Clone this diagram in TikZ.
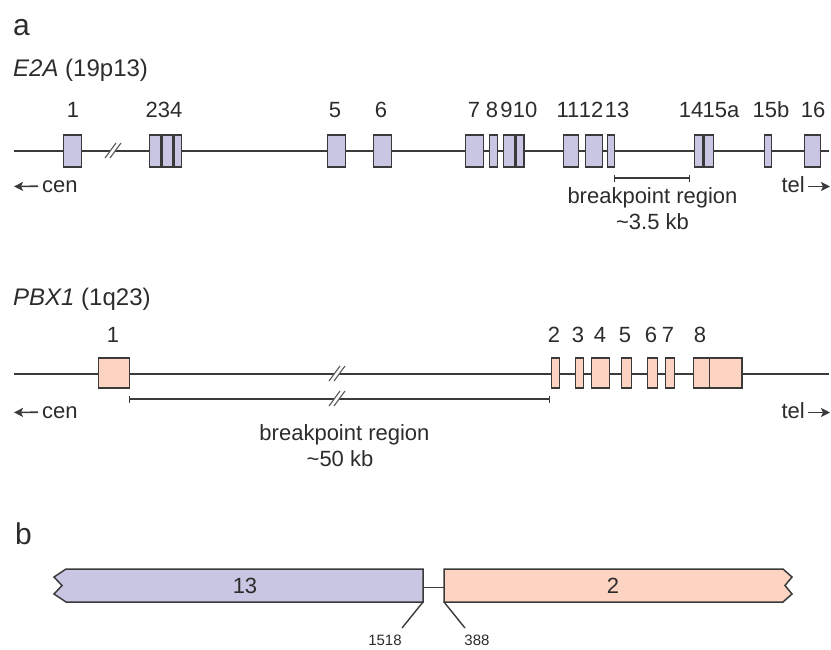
\documentclass[tikz,border=0pt]{standalone}
\usepackage{fontspec}
\setmainfont{Liberation Sans}
\usetikzlibrary{arrows.meta}
\definecolor{exa}{HTML}{C8C6E3}
\definecolor{exb}{HTML}{FDD4C2}
\definecolor{ink}{HTML}{3A3A3A}
\definecolor{txt}{HTML}{2C2C2C}
\begin{document}
\begin{tikzpicture}[x=1pt,y=-1pt,
  gline/.style={draw=ink, line width=1.4pt},
  exonA/.style={draw=ink, fill=exa, line width=1.6pt, inner sep=0pt, minimum height=31.5pt, anchor=west},
  exonB/.style={draw=ink, fill=exb, line width=1.6pt, inner sep=0pt, minimum height=30.5pt, anchor=west},
  thickdiv/.style={draw=ink, line width=3pt},
  lab/.style={text=txt, inner sep=0pt, anchor=base, font=\fontsize{22}{26}\selectfont},
  labw/.style={lab, anchor=base west},
  title/.style={text=txt, inner sep=0pt, anchor=base west, font=\fontsize{24}{28}\selectfont},
  panel/.style={text=txt, inner sep=0pt, anchor=base west, font=\fontsize{30}{34}\selectfont},
  small/.style={text=txt, inner sep=0pt, anchor=base, font=\fontsize{15}{17}\selectfont},
  dirarrow/.style={draw=ink, line width=1.6pt, -{Stealth[length=9pt,width=9pt,inset=2pt]}},
  bracket/.style={draw=ink, line width=1.3pt, {Bar[width=7pt]}-{Bar[width=7pt]}},
  brk/.pic={
    \fill[white] (-8,7) -- (-3,7) -- (8,-8) -- (3,-8) -- cycle;
    \draw[gray!70!black, line width=1.1pt] (-8,7) -- (3,-8);
    \draw[gray!70!black, line width=1.1pt] (-3,7) -- (8,-8);
  }
]
\useasboundingbox (0,0) rectangle (831,649);

% ---------- panel a ----------
\node[panel] (pa) at (13,35) {a};
\node[title] (tE2A) at (13,76) {\textit{E2A} (19p13)};

% E2A gene line
\coordinate (eL) at (14,151);
\coordinate (eR) at (829,151);
\draw[gline] (eL) -- (eR);
\pic at (113,151) {brk};

% E2A exons
\node[exonA, minimum width=18pt] (a1) at (62.8,151) {};
\node[exonA, minimum width=11pt] (a2) at (148.8,151) {};
\node[exonA, minimum width=12pt] (a3) at (159.8,151) {};
\node[exonA, minimum width=9pt]  (a4) at (171.8,151) {};
\node[exonA, minimum width=18pt] (a5) at (326.8,151) {};
\node[exonA, minimum width=18pt] (a6) at (372.8,151) {};
\node[exonA, minimum width=18pt] (a7) at (464.8,151) {};
\node[exonA, minimum width=8pt]  (a8) at (488.8,151) {};
\node[exonA, minimum width=11pt] (a9) at (502.8,151) {};
\node[exonA, minimum width=9.5pt] (a10) at (513.8,151) {};
\node[exonA, minimum width=15pt] (a11) at (562.8,151) {};
\node[exonA, minimum width=17pt] (a12) at (584.8,151) {};
\node[exonA, minimum width=7pt]  (a13) at (606.8,151) {};
\node[exonA, minimum width=8pt]  (a14) at (693.8,151) {};
\node[exonA, minimum width=11pt] (a15a) at (701.8,151) {};
\node[exonA, minimum width=7pt]  (a15b) at (763.8,151) {};
\node[exonA, minimum width=16pt] (a16) at (803.8,151) {};
\draw[thickdiv] (a2.north east) -- (a2.south east);
\draw[thickdiv] (a3.north east) -- (a3.south east);
\draw[thickdiv] (a9.north east) -- (a9.south east);
\draw[thickdiv] (a14.north east) -- (a14.south east);

% E2A exon labels
\node[lab] (la1) at (73,117) {1};
\node[lab] (la234) at (164,117) {234};
\node[lab] (la5) at (335,117) {5};
\node[lab] (la6) at (381,117) {6};
\node[lab] (la7) at (474,117) {7};
\node[lab] (la8) at (492,117) {8};
\node[lab] (la9) at (506.5,117) {9};
\node[lab] (la10) at (525,117) {10};
\node[lab] (la11) at (568,117) {11};
\node[lab] (la12) at (591,117) {12};
\node[lab] (la13) at (617,117) {13};
\node[lab] (la14) at (691,117) {14};
\node[lab] (la15a) at (721,117) {15a};
\node[lab] (la15b) at (771,117) {15b};
\node[lab] (la16) at (813,117) {16};

% cen / tel
\node[labw] (cenA) at (42,192) {cen};
\coordinate (cenAe) at (14,186.5);
\draw[dirarrow] ([xshift=-4pt]cenA.west) -- (cenAe);
\node[lab, anchor=base east] (telA) at (805,192) {tel};
\coordinate (telAs) at (808,186.5);
\coordinate (telAe) at (830,186.5);
\draw[dirarrow] (telAs) -- (telAe);

% breakpoint region E2A
\coordinate (brA1) at (614,178);
\coordinate (brA2) at (690,178);
\draw[bracket] (brA1) -- (brA2);
\node[lab] (bpA) at (652.5,203) {breakpoint region};
\node[lab] (kbA) at (652.5,229) {\textasciitilde3.5 kb};

% ---------- PBX1 ----------
\node[title] (tPBX) at (13,305) {\textit{PBX1} (1q23)};
\coordinate (pL) at (14,374);
\coordinate (pR) at (829,374);
\draw[gline] (pL) -- (pR);
\pic at (337,374) {brk};

\node[exonB, minimum width=31pt] (b1) at (97.8,373) {};
\node[exonB, minimum width=8pt]  (b2) at (550.8,373) {};
\node[exonB, minimum width=8pt]  (b3) at (574.8,373) {};
\node[exonB, minimum width=18pt] (b4) at (590.8,373) {};
\node[exonB, minimum width=10pt] (b5) at (620.8,373) {};
\node[exonB, minimum width=10pt] (b6) at (646.8,373) {};
\node[exonB, minimum width=9pt]  (b7) at (664.8,373) {};
\node[exonB, minimum width=16pt] (b8a) at (692.8,373) {};
\node[exonB, minimum width=32.5pt] (b8b) at (708.8,373) {};

\node[lab] (lb1) at (113,342) {1};
\node[lab] (lb2) at (554,342) {2};
\node[lab] (lb3) at (578,342) {3};
\node[lab] (lb4) at (600,342) {4};
\node[lab] (lb5) at (625,342) {5};
\node[lab] (lb6) at (651,342) {6};
\node[lab] (lb7) at (668,342) {7};
\node[lab] (lb8) at (700,342) {8};

\node[labw] (cenB) at (42,418) {cen};
\coordinate (cenBe) at (14,412.5);
\draw[dirarrow] ([xshift=-4pt]cenB.west) -- (cenBe);
\node[lab, anchor=base east] (telB) at (805,418) {tel};
\coordinate (telBs) at (808,412.5);
\coordinate (telBe) at (830,412.5);
\draw[dirarrow] (telBs) -- (telBe);

\coordinate (brB1) at (129,399);
\coordinate (brB2) at (550,399);
\draw[bracket] (brB1) -- (brB2);
\pic at (337,399) {brk};
\node[lab] (bpB) at (344.5,440) {breakpoint region};
\node[lab] (kbB) at (340,466) {\textasciitilde50 kb};

% ---------- panel b ----------
\node[panel] (pb) at (15,544) {b};

\coordinate (fl1) at (423,569);
\coordinate (fl2) at (423,602);
\coordinate (fr1) at (444,569);
\coordinate (fr2) at (444,602);
\draw[draw=ink, line width=1.5pt, fill=exa, line join=miter]
  (66,569) -- (fl1) -- (fl2) -- (66,602) -- (54,594) -- (62,585.5) -- (54,577) -- cycle;
\draw[draw=ink, line width=1.5pt, fill=exb, line join=miter]
  (fr1) -- (783,569) -- (792,577) -- (785,585.5) -- (792,594) -- (783,602) -- (fr2) -- cycle;
\coordinate (jl) at (423,587.5);
\coordinate (jr) at (444,587.5);
\draw[gline] (jl) -- (jr);
\node[lab] (t13) at (245,593) {13};
\node[lab] (t2) at (613,593) {2};

\node[small] (n1518) at (385,645) {1518};
\node[small] (n388) at (477,645) {388};
\coordinate (tk1) at (402,628);
\coordinate (tk2) at (465,628);
\draw[gline] (fl2) -- (tk1);
\draw[gline] (fr2) -- (tk2);
\end{tikzpicture}
\end{document}
